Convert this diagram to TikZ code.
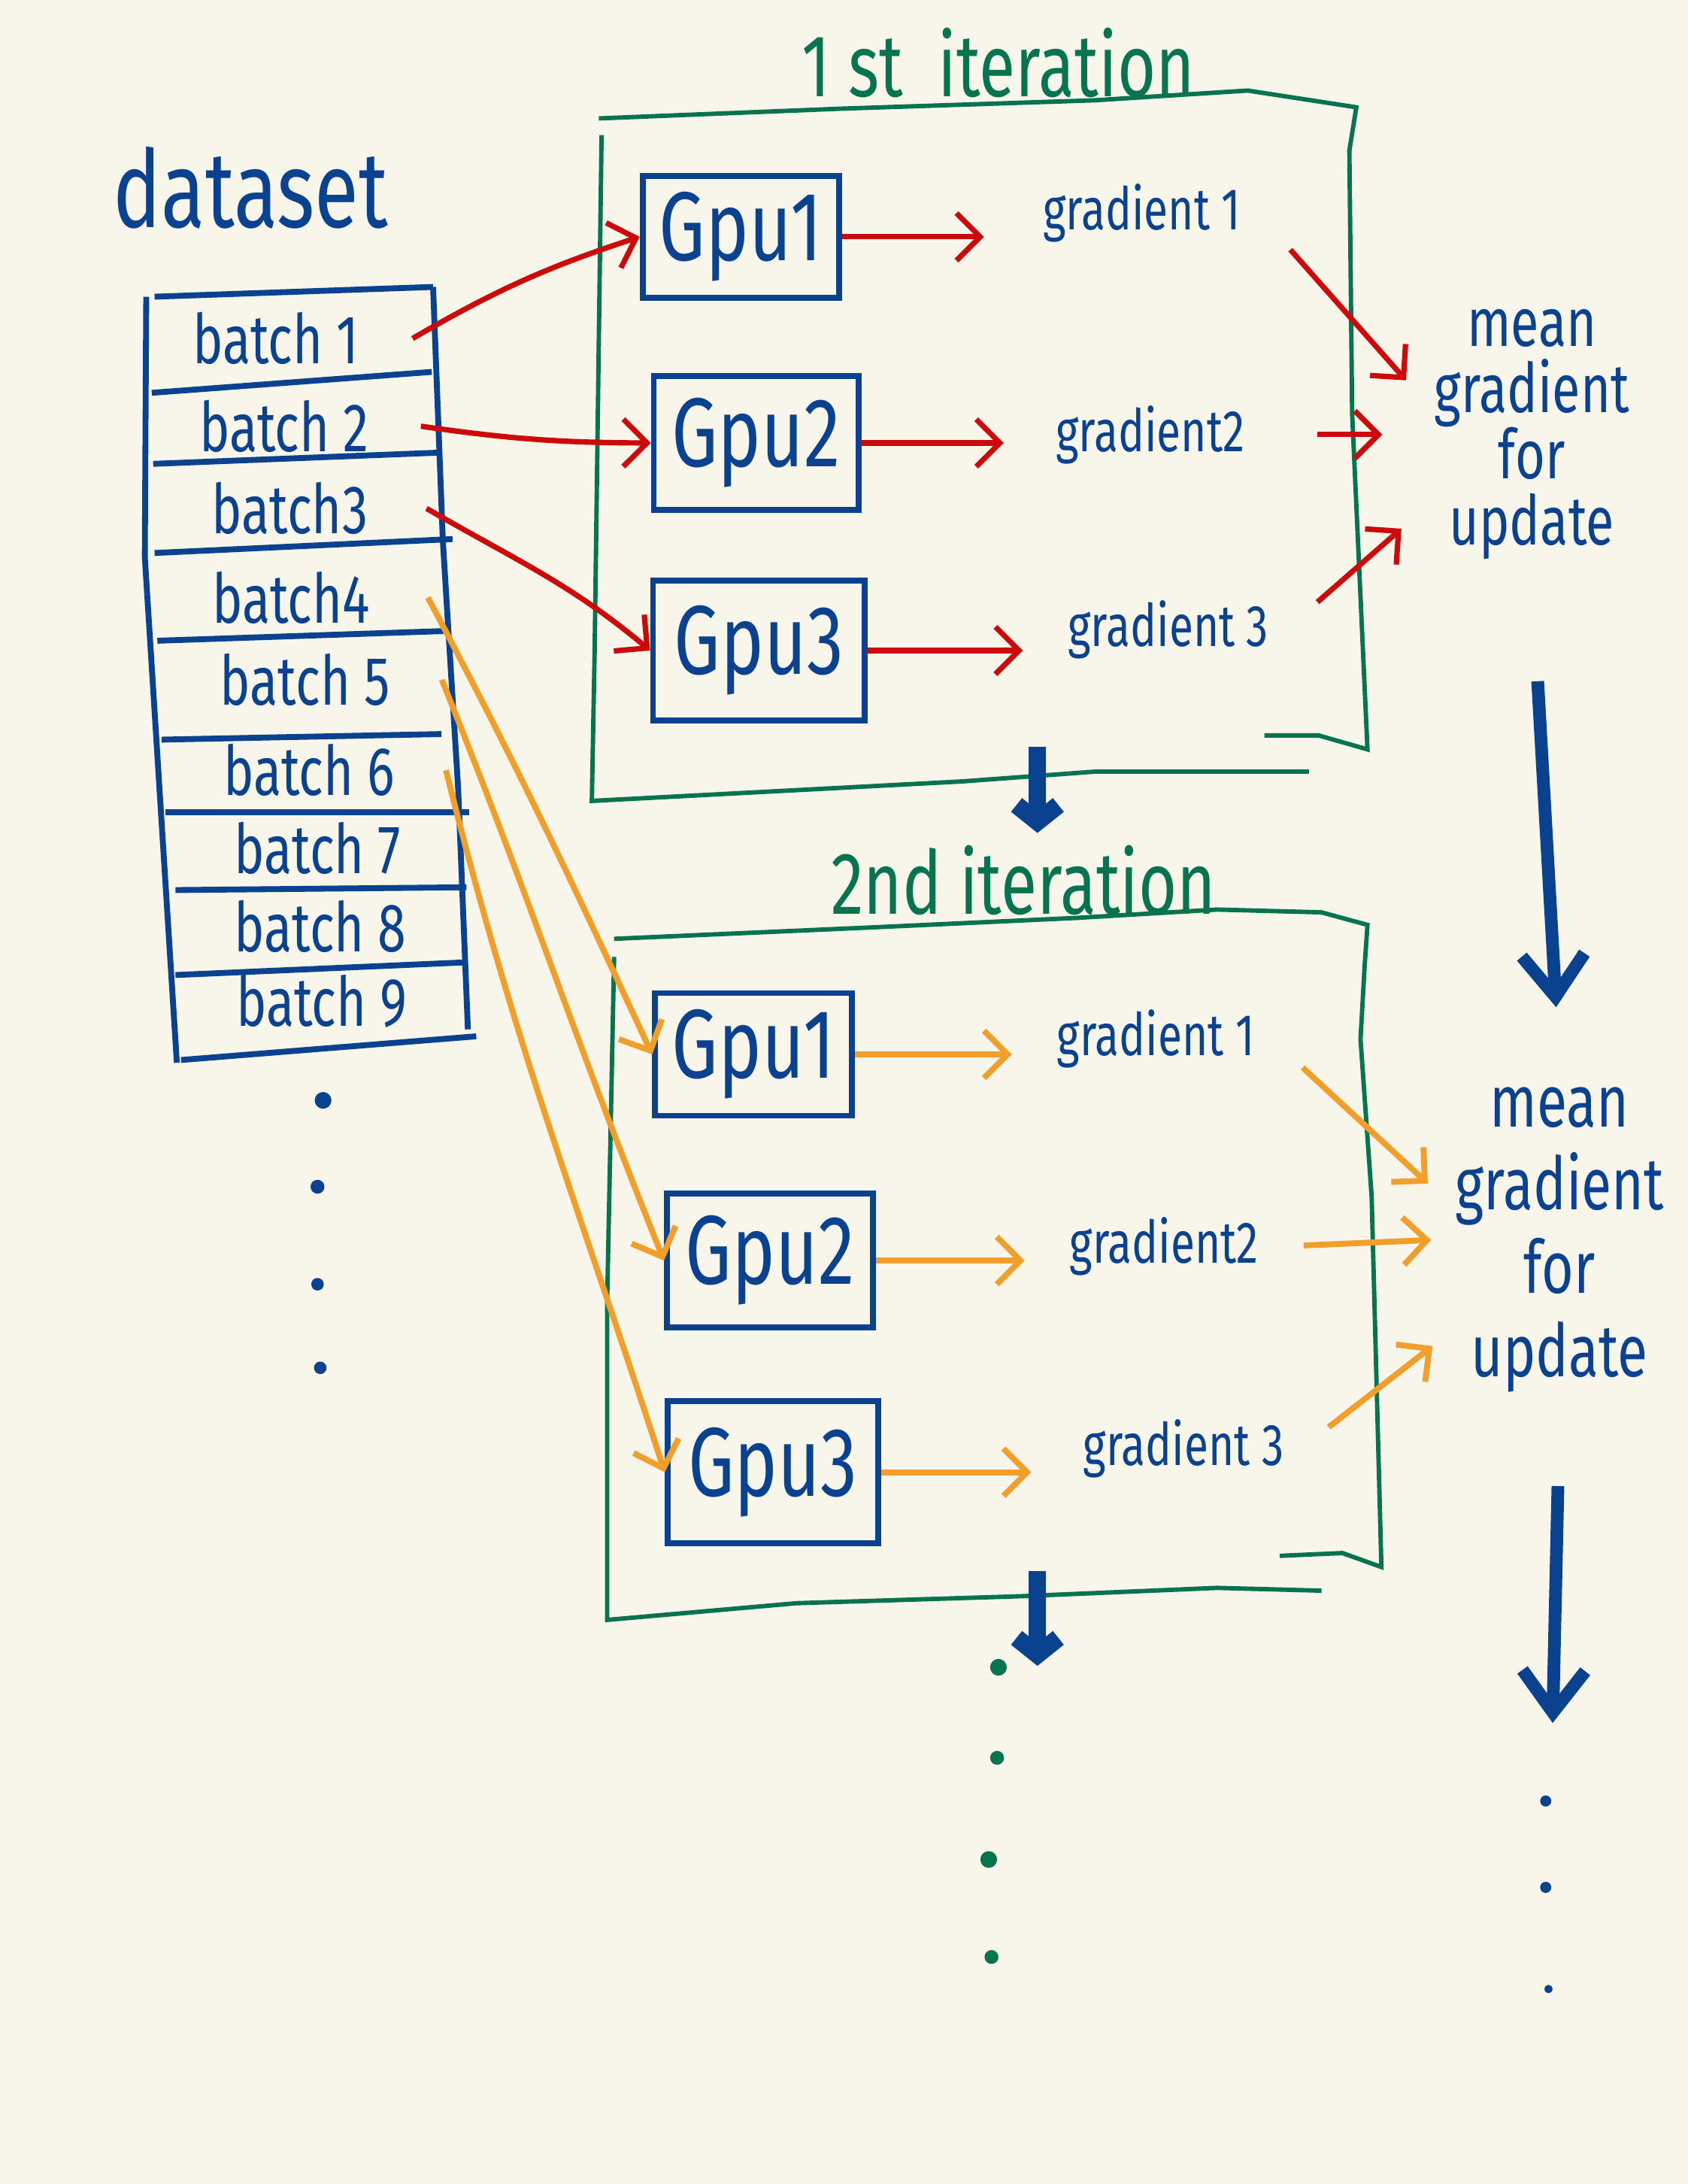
\documentclass[tikz,border=0pt]{standalone}
\usepackage{fontspec}
\setmainfont{Fira Sans}[FakeStretch=0.75]
\usetikzlibrary{arrows.meta}
\definecolor{paper}{HTML}{F8F6EA}
\definecolor{ink}{HTML}{0B4290}
\definecolor{pen}{HTML}{CC0A0A}
\definecolor{marker}{HTML}{F29E2A}
\definecolor{frame}{HTML}{08744F}
\newcommand{\epais}[0]{very thick}
\newcommand{\rowline}[2]{\draw[ink,\epais] (#1) -- (#2)}
\newcommand{\spot}[3]{\fill[#1] (#2) circle (#3)}
\tikzset{
	batch/.style={text=ink, font=\fontsize{14}{16}\selectfont, minimum width=1.95cm},
	gpu/.style={draw=ink, line width=1.2pt, text=ink, font=\fontsize{20}{24}\selectfont},
	grad/.style={text=ink, font=\fontsize{12}{14}\selectfont},
	mean/.style={text=ink, align=center},
	title/.style={text=frame, font=\fontsize{18}{20}\selectfont},
	redarr/.style={pen, line width=1.1pt, -{Straight Barb[length=0.17cm,width=0.34cm]}},
	orarr/.style={marker, line width=1.2pt, -{Straight Barb[length=0.17cm,width=0.34cm]}},
	bluearr/.style={ink, line width=2.6pt, -{Straight Barb[length=0.3cm,width=0.45cm]}},
	stub/.style={ink, line width=3.6pt, -{Straight Barb[length=0.12cm,width=0.3cm]}},
	box/.style={frame, line width=0.9pt}
}
\begin{document}
\begin{tikzpicture}[x=0.01cm, y=-0.01cm]
%Paper
	\fill[paper] (0,0) rectangle (1212,1568);
	\useasboundingbox (0,0) rectangle (1212,1568);
%The dataset
	\node[text=ink, font=\fontsize{22}{24}\selectfont] (data) at (180,135) {dataset};
	\draw[ink,\epais] (105,213) -- (104,400) -- (127,763);
	\draw[ink,\epais] (311,206) -- (318,388) -- (329,566) -- (336,739);
	\rowline{111,213}{311,206};
	\rowline{109,282}{310,267};
	\rowline{110,333}{314,325};
	\rowline{111,397}{325,387};
	\rowline{113,460}{320,453};
	\rowline{116,531}{317,527};
	\rowline{119,583}{337,583};
	\rowline{126,639}{335,637};
	\rowline{126,700}{332,691};
	\rowline{130,761}{342,744};
	\node[batch] (b1) at (198,243) {batch 1};
	\node[batch] (b2) at (204,306) {batch 2};
	\node[batch] (b3) at (208,365) {batch3};
	\node[batch] (b4) at (209,429) {batch4};
	\node[batch] (b5) at (219,488) {batch 5};
	\node[batch] (b6) at (222,553) {batch 6};
	\node[batch] (b7) at (228,609) {batch 7};
	\node[batch] (b8) at (230,665) {batch 8};
	\node[batch] (b9) at (231,719) {batch 9};
	\spot{ink}{232,790}{0.06cm};
	\spot{ink}{228,852}{0.05cm};
	\spot{ink}{228,922}{0.045cm};
	\spot{ink}{230,982}{0.045cm};
%The first iteration
	\node[title] (it1) at (717,45) {1 st\ \ iteration};
	\draw[box] (430,85) -- (604,78) -- (786,72) -- (896,65) -- (974,77)
		-- (969,108) -- (971,297) -- (982,538) -- (947,528) -- (908,528);
	\draw[box] (432,97) -- (427,469) -- (425,575) -- (691,561) -- (786,554) -- (940,554);
	\node[gpu, minimum width=1.41cm, minimum height=0.86cm] (g11) at (532,170) {Gpu1};
	\node[gpu, minimum width=1.47cm, minimum height=0.96cm] (g12) at (543,318) {Gpu2};
	\node[gpu, minimum width=1.52cm, minimum height=1.0cm] (g13) at (545,467) {Gpu3};
	\node[grad] (d11) at (820,153) {gradient 1};
	\node[grad] (d12) at (826,312) {gradient2};
	\node[grad] (d13) at (839,452) {gradient 3};
	\node[mean, font=\fontsize{14}{13.5}\selectfont] (m1) at (1100,312) {mean\\gradient\\for\\update};
	\draw[redarr] (b1.east) to[bend left=6] (g11.west);
	\draw[redarr] (b2.east) to[bend right=4] (g12.west);
	\draw[redarr] (b3.east) to[out=-30,in=140] (g13.west);
	\draw[redarr, shorten >=0.3cm] (g11.east) -- (g11.east -| d11.west);
	\draw[redarr, shorten >=0.25cm] (g12.east) -- (g12.east -| d12.west);
	\draw[redarr, shorten >=0.2cm] (g13.east) -- (g13.east -| d13.west);
	\draw[redarr, shorten <=0.35cm, shorten >=0.12cm] (d11.east) -- (m1.160);
	\draw[redarr, shorten <=0.4cm, shorten >=0.25cm] (d12.east) -- (m1.west);
	\draw[redarr, shorten <=0.3cm, shorten >=0.15cm] (d13.east) -- (m1.215);
%The second iteration
	\node[title] (it2) at (735,632) {2nd iteration};
	\draw[box] (441,674) -- (622,666) -- (773,659) -- (874,653) -- (949,655) -- (982,664)
		-- (980,693) -- (977,746) -- (985,859) -- (992,1125) -- (964,1115) -- (919,1117);
	\draw[box] (441,687) -- (436,935) -- (436,1163) -- (572,1151) -- (733,1146) -- (874,1140) -- (949,1142);
	\node[gpu, minimum width=1.41cm, minimum height=0.88cm] (g21) at (541,757) {Gpu1};
	\node[gpu, minimum width=1.48cm, minimum height=0.96cm] (g22) at (553,905) {Gpu2};
	\node[gpu, minimum width=1.51cm, minimum height=1.02cm] (g23) at (555,1057) {Gpu3};
	\node[grad] (d21) at (830,746) {gradient 1};
	\node[grad] (d22) at (836,895) {gradient2};
	\node[grad] (d23) at (850,1040) {gradient 3};
	\node[mean, font=\fontsize{15}{17}\selectfont] (m2) at (1120,890) {mean\\gradient\\for\\update};
	\draw[orarr] (b4.east) to[out=-62,in=115] (g21.west);
	\draw[orarr] (b5.east) to[out=-68,in=112] (g22.west);
	\draw[orarr] (b6.east) to[out=-76,in=108] (g23.west);
	\draw[orarr, shorten >=0.2cm] (g21.east) -- (g21.east -| d21.west);
	\draw[orarr, shorten >=0.2cm] (g22.east) -- (g22.east -| d22.west);
	\draw[orarr, shorten >=0.25cm] (g23.east) -- (g23.east -| d23.west);
	\draw[orarr, shorten <=0.3cm, shorten >=0.1cm] (d21.east) -- (m2.159);
	\draw[orarr, shorten <=0.2cm, shorten >=0.05cm] (d22.east) -- (m2.west);
	\draw[orarr, shorten <=0.25cm, shorten >=0.05cm] (d23.east) -- (m2.220);
%Going down
	\coordinate (low1) at (745,536);
	\coordinate (next1) at (745,598);
	\draw[stub] (low1) -- (next1);
	\draw[bluearr, shorten <=0.75cm, shorten >=0.45cm] (m1.south) -- (m2.north);
%And so on
	\coordinate (low2) at (745,1128);
	\coordinate (next2) at (745,1196);
	\draw[stub] (low2) -- (next2);
	\coordinate (more) at (1115,1237);
	\draw[bluearr, shorten <=0.55cm] (m2.south) -- (more);
	\spot{frame}{717,1197}{0.06cm};
	\spot{frame}{716,1262}{0.05cm};
	\spot{frame}{710,1335}{0.06cm};
	\spot{frame}{712,1405}{0.05cm};
	\spot{ink}{1110,1293}{0.04cm};
	\spot{ink}{1110,1355}{0.04cm};
	\spot{ink}{1112,1428}{0.03cm};
\end{tikzpicture}
\end{document}
